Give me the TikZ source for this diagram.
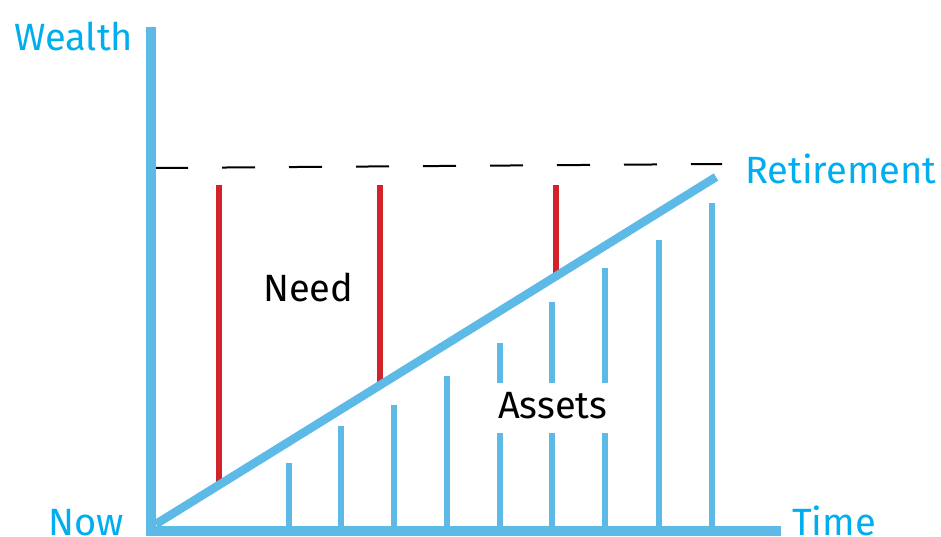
\documentclass[tikz,border=0pt]{standalone}
\usepackage{fontspec}
\setsansfont{Fira Sans}
\usetikzlibrary{calc}
\definecolor{axisblue}{HTML}{5DBAE7}
\definecolor{textblue}{HTML}{00AEEF}
\definecolor{needred}{HTML}{D2232A}
\tikzset{
    % axes, growth line and asset bars
    axis_line/.style = {draw=axisblue, line width=10pt},
    growth_line/.style = {draw=axisblue, line width=8.5pt},
    asset_bar/.style = {draw=axisblue, line width=6pt},
    % shortfall between goal and assets
    need_line/.style = {draw=needred, line width=6pt},
    goal_line/.style = {draw=black, line width=2pt, dash pattern=on 33pt off 34pt},
    txt/.style = {inner sep=0pt, anchor=base west, font=\sffamily\fontsize{38}{38}\selectfont},
    txt_blue/.style = {txt, textblue},
    txt_black/.style = {txt, black}
}
\begin{document}
\begin{tikzpicture}[x=1pt, y=-1pt]
    \useasboundingbox (0,0) rectangle (941,536);

    % goal level
    \coordinate (goal_start) at (155,168);
    \coordinate (goal_end) at (722,164);
    \draw[goal_line] (goal_start) -- (goal_end);

    % need bars, up from the growth line
    \foreach \x/\y in {219/485, 380/385.2, 556/276}
        \draw[need_line] (\x,185) -- (\x,\y);

    % asset bars
    \foreach \x/\y in {288.5/463, 341/426, 393.5/405, 447/376, 659/240, 711.5/203}
        \draw[asset_bar] (\x,526) -- (\x,\y);
    \foreach \x/\y in {500/343, 552/302, 605/268} {
        \draw[asset_bar] (\x,526) -- (\x,433);
        \draw[asset_bar] (\x,383) -- (\x,\y);
    }

    % axes
    \coordinate (origin) at (151,531);
    \coordinate (y_top) at (151,27);
    \coordinate (x_end) at (781,531);
    \draw[axis_line] (y_top) -- (151,536);
    \draw[axis_line] (146,531) -- (x_end);

    % growth of assets
    \coordinate (now) at (156,524);
    \coordinate (retire) at (716,177);
    \draw[growth_line] (now) -- (retire);

    \node[txt_blue] (wealth) at (14,50) {Wealth};
    \node[txt_blue] (retirement) at (745,183) {Retirement};
    \node[txt_blue] (now_lbl) at (48,535) {Now};
    \node[txt_blue] (time) at (792,535) {Time};
    \node[txt_black] (need) at (263,301) {Need};
    \node[txt_black] (assets) at (498,418) {Assets};
\end{tikzpicture}
\end{document}
